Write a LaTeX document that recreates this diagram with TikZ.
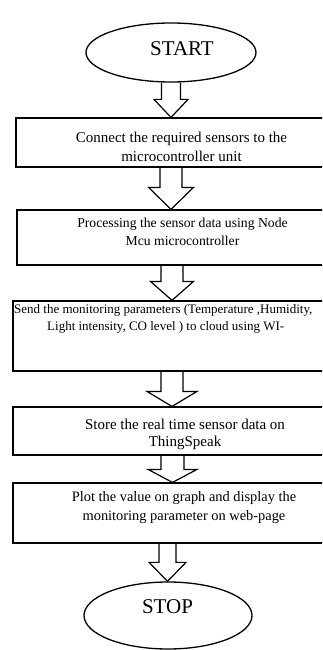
\documentclass[tikz,border=0pt]{standalone}
\usepackage{fontspec}
\setmainfont{Liberation Serif}
\usetikzlibrary{shapes.geometric,calc}
\tikzset{terminal/.style={ellipse, draw, line width=1.3pt, inner sep=0pt},
    process/.style={rectangle, draw, line width=1.2pt, inner sep=0pt},
    steptext/.style={align=center, inner sep=0pt},
    flowarrow/.style={draw, line width=1.2pt, line join=miter}}
% hollow arrow: from, to, x offset, shaft half width, head half width, head length
\newcommand{\blockarrow}[6]{%
    \draw[flowarrow] let \p1=(#1), \p2=(#2) in
        (\x1+#3pt-#4pt,\y1) -- (\x1+#3pt-#4pt,\y2+#6pt) -- (\x1+#3pt-#5pt,\y2+#6pt)
        -- (\x1+#3pt,\y2) -- (\x1+#3pt+#5pt,\y2+#6pt) -- (\x1+#3pt+#4pt,\y2+#6pt)
        -- (\x1+#3pt+#4pt,\y1);}

\begin{document}
\begin{tikzpicture}[x=1pt, y=-1pt]
    \path[use as bounding box, clip] (0,0) rectangle (322,650);
    % start and stop
    \node[terminal, minimum width=170pt, minimum height=59pt] (start) at (171,52.5) {};
    \node[steptext, font=\fontsize{21}{24}\selectfont] (starttext) at (182,49) {START};
    \node[terminal, minimum width=168pt, minimum height=67pt] (stop) at (168,615.5) {};
    \node[steptext, font=\fontsize{21}{24}\selectfont] (stoptext) at (167.5,607) {STOP};
    % process boxes
    \node[process, minimum width=308pt, minimum height=49pt] (connect) at (170,142.5) {};
    \node[process, minimum width=307pt, minimum height=55pt] (processing) at (170.5,237.5) {};
    \node[process, minimum width=311pt, minimum height=70pt] (send) at (168.5,336) {};
    \node[process, minimum width=311pt, minimum height=48pt] (store) at (168.5,431) {};
    \node[process, minimum width=311pt, minimum height=60pt] (plot) at (168.5,513) {};
    % box texts
    \node[steptext, font=\fontsize{15}{19}\selectfont] (connecttext) at (181.5,146.5)
        {Connect the required sensors to the\\microcontroller unit};
    \node[steptext, font=\fontsize{13.7}{18}\selectfont] (processingtext) at (182.5,232)
        {Processing the sensor data using Node\\Mcu microcontroller};
    \node[steptext, align=left, anchor=west, font=\fontsize{13}{17}\selectfont] (sendtext) at (14,318.5)
        {Send the monitoring parameters (Temperature ,Humidity,\\\hspace*{33pt}Light intensity, CO level ) to cloud using WI-};
    \node[steptext, font=\fontsize{15}{17}\selectfont] (storetext) at (185,434.5)
        {Store the real time sensor data on\\ThingSpeak};
    \node[steptext, font=\fontsize{14.4}{19}\selectfont] (plottext) at (184,507.5)
        {Plot the value on graph and display the\\monitoring parameter on web-page};
    % arrows
    \blockarrow{start.south}{connect.north}{0}{9.5}{17}{18}
    \blockarrow{connect.south}{processing.north}{1}{11}{22.5}{22}
    \blockarrow{processing.south}{send.north}{1.5}{11}{21.5}{19}
    \blockarrow{send.south}{store.north}{3.5}{11}{25}{15}
    \blockarrow{store.south}{plot.north}{4}{11.5}{24.5}{13}
    \blockarrow{plot.south}{stop.north}{-1}{8.5}{18.5}{19}
\end{tikzpicture}
\end{document}
